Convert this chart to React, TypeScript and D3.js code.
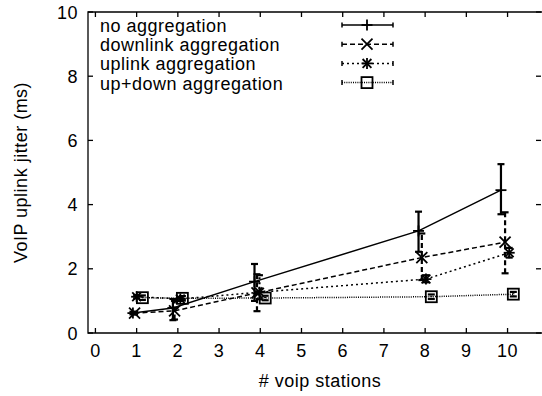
import React from "react";
import * as d3 from "d3";

// Number of VoIP stations per run, jitter means and error bar bounds (ms)
const stations = [1, 2, 4, 8, 10];

const noAggX = [0.91, 1.88, 3.86, 7.84, 9.84];
const noAggY = [0.62, 0.78, 1.6, 3.18, 4.45];
const noAggLo = [0.58, 0.4, 1.0, 2.53, 3.7];
const noAggHi = [0.66, 1.06, 2.15, 3.78, 5.26];

const downX = [0.95, 1.92, 3.92, 7.92, 9.94];
const downY = [0.62, 0.69, 1.25, 2.35, 2.83];
const downLo = [0.58, 0.42, 0.68, 1.65, 1.86];
const downHi = [0.66, 1.0, 1.83, 3.1, 3.76];

const upX = [1.0, 2.06, 3.98, 8.02, 10.04];
const upY = [1.13, 1.06, 1.27, 1.68, 2.5];
const upLo = [1.08, 1.0, 1.05, 1.58, 2.35];
const upHi = [1.18, 1.12, 1.8, 1.8, 2.65];

const bothX = [1.14, 2.11, 4.12, 8.15, 10.14];
const bothY = [1.1, 1.08, 1.09, 1.13, 1.21];
const bothLo = [1.03, 1.01, 1.02, 1.06, 1.14];
const bothHi = [1.17, 1.15, 1.16, 1.2, 1.28];

const seriesNames = [
  "no aggregation",
  "downlink aggregation",
  "uplink aggregation",
  "up+down aggregation",
];

const xTicks = [0, 1, 2, 3, 4, 5, 6, 7, 8, 9, 10];
const yTicks = [0, 2, 4, 6, 8, 10];

const FONT = "'Liberation Sans', Arial, Helvetica, sans-serif";

type Series = {
  name: string;
  xs: number[];
  ys: number[];
  lo: number[];
  hi: number[];
  dash: string | null;
  marker: "plus" | "cross" | "star" | "square";
};

const series: Series[] = [
  { name: seriesNames[0], xs: noAggX, ys: noAggY, lo: noAggLo, hi: noAggHi, dash: null, marker: "plus" },
  { name: seriesNames[1], xs: downX, ys: downY, lo: downLo, hi: downHi, dash: "5,3", marker: "cross" },
  { name: seriesNames[2], xs: upX, ys: upY, lo: upLo, hi: upHi, dash: "2,3", marker: "star" },
  { name: seriesNames[3], xs: bothX, ys: bothY, lo: bothLo, hi: bothHi, dash: "1,1.2", marker: "square" },
];

function Marker({ kind, cx, cy }: { kind: Series["marker"]; cx: number; cy: number }) {
  const r = 5.5;
  const common = { stroke: "#000", strokeWidth: 1.8, fill: "none" };
  if (kind === "plus") {
    return (
      <g {...common}>
        <line x1={cx - r} y1={cy} x2={cx + r} y2={cy} />
        <line x1={cx} y1={cy - r} x2={cx} y2={cy + r} />
      </g>
    );
  }
  if (kind === "cross") {
    return (
      <g {...common}>
        <line x1={cx - r} y1={cy - r} x2={cx + r} y2={cy + r} />
        <line x1={cx - r} y1={cy + r} x2={cx + r} y2={cy - r} />
      </g>
    );
  }
  if (kind === "star") {
    return (
      <g {...common}>
        <line x1={cx - r} y1={cy} x2={cx + r} y2={cy} />
        <line x1={cx} y1={cy - r} x2={cx} y2={cy + r} />
        <line x1={cx - r * 0.8} y1={cy - r * 0.8} x2={cx + r * 0.8} y2={cy + r * 0.8} />
        <line x1={cx - r * 0.8} y1={cy + r * 0.8} x2={cx + r * 0.8} y2={cy - r * 0.8} />
      </g>
    );
  }
  return <rect x={cx - r} y={cy - r} width={2 * r} height={2 * r} {...common} />;
}

export default function App() {
  const width = 542;
  const height = 396;
  const left = 88;
  const right = 543;
  const top = 12;
  const bottom = 333;

  const x = d3.scaleLinear().domain([-0.18, 10.86]).range([left, right]);
  const y = d3.scaleLinear().domain([0, 10]).range([bottom, top]);
  const line = d3
    .line<[number, number]>()
    .x((d) => x(d[0]))
    .y((d) => y(d[1]));

  const tick = 5;
  const cap = 3.5;

  return (
    <svg
      width={width}
      height={height}
      style={{ position: "absolute", left: 0, top: 0, background: "#fff" }}
      fontFamily={FONT}
      letterSpacing={0.5}
    >
      <rect x={0} y={0} width={width} height={height} fill="#fff" />

      {/* frame and ticks */}
      <g stroke="#000" strokeWidth={1.3} fill="none">
        <path d={`M${right},${top}H${left}V${bottom}H${right}`} />
        {xTicks.map((t) => (
          <g key={"xt" + t}>
            <line x1={x(t)} x2={x(t)} y1={bottom} y2={bottom - tick} />
            <line x1={x(t)} x2={x(t)} y1={top} y2={top + tick} />
          </g>
        ))}
        {yTicks.map((t) => (
          <g key={"yt" + t}>
            <line x1={left} x2={left + tick} y1={y(t)} y2={y(t)} />
            <line x1={right - 2} x2={right - 2 - tick} y1={y(t)} y2={y(t)} />
          </g>
        ))}
      </g>

      {/* tick labels */}
      <g fontSize={18} fill="#000">
        {xTicks.map((t) => (
          <text key={"xl" + t} x={x(t)} y={357} textAnchor="middle">
            {t}
          </text>
        ))}
        {yTicks.map((t) => (
          <text key={"yl" + t} x={78} y={y(t) + 6.5} textAnchor="end">
            {t}
          </text>
        ))}
      </g>

      {/* axis titles */}
      <text x={320} y={387} fontSize={18} textAnchor="middle">
        # voip stations
      </text>
      <text
        transform={`translate(27,${(top + bottom) / 2}) rotate(-90)`}
        fontSize={18}
        textAnchor="middle"
      >
        VoIP uplink jitter (ms)
      </text>

      {/* series */}
      {series.map((s, si) => {
        const pts = s.xs.map((v, i) => [v, s.ys[i]] as [number, number]);
        return (
          <g key={"s" + si}>
            <path
              d={line(pts) || ""}
              fill="none"
              stroke="#000"
              strokeWidth={1.5}
              strokeDasharray={s.dash || undefined}
            />
            {s.xs.map((v, i) => (
              <g
                key={"e" + i}
                stroke="#000"
                strokeWidth={2.2}
                strokeDasharray={s.dash || undefined}
              >
                <line x1={x(v)} x2={x(v)} y1={y(s.lo[i])} y2={y(s.hi[i])} />
                <line x1={x(v) - cap} x2={x(v) + cap} y1={y(s.lo[i])} y2={y(s.lo[i])} strokeDasharray="none" />
                <line x1={x(v) - cap} x2={x(v) + cap} y1={y(s.hi[i])} y2={y(s.hi[i])} strokeDasharray="none" />
              </g>
            ))}
            {s.xs.map((v, i) => (
              <Marker key={"m" + i} kind={s.marker} cx={x(v)} cy={y(s.ys[i])} />
            ))}
          </g>
        );
      })}

      {/* legend */}
      {series.map((s, si) => {
        const ly = 25 + si * 19.2;
        const x1 = 342;
        const x2 = 393;
        return (
          <g key={"lg" + si}>
            <text x={100} y={ly + 7} fontSize={18}>
              {s.name}
            </text>
            <line
              x1={x1}
              x2={x2}
              y1={ly}
              y2={ly}
              stroke="#000"
              strokeWidth={1.5}
              strokeDasharray={s.dash || undefined}
            />
            <line x1={x1} x2={x1} y1={ly - 2.5} y2={ly + 2.5} stroke="#000" strokeWidth={1.5} />
            <line x1={x2} x2={x2} y1={ly - 2.5} y2={ly + 2.5} stroke="#000" strokeWidth={1.5} />
            <Marker kind={s.marker} cx={367} cy={ly} />
          </g>
        );
      })}
    </svg>
  );
}
